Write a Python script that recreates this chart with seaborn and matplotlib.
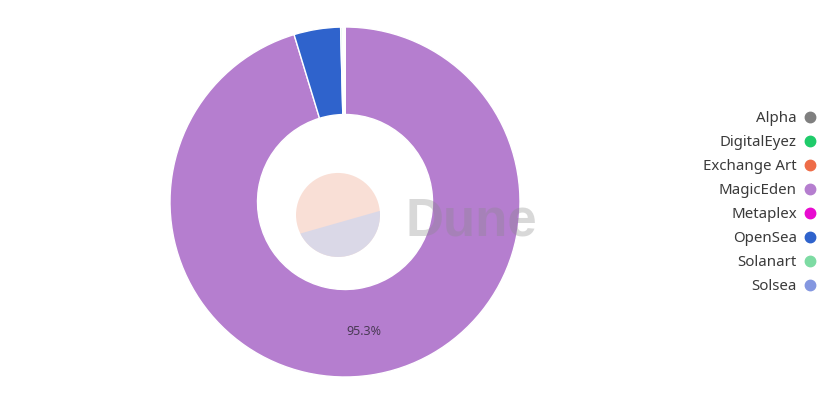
"""Marketplace share donut (Solana NFT volume by marketplace)."""
import matplotlib

matplotlib.use("Agg")

import matplotlib.pyplot as plt  # noqa: E402
import seaborn as sns  # noqa: E402
from matplotlib.lines import Line2D  # noqa: E402
from matplotlib.patches import Circle, Polygon  # noqa: E402

# Legend order (alphabetical, as in the reference)
MARKETS = ["Alpha", "DigitalEyez", "Exchange Art", "MagicEden",
           "Metaplex", "OpenSea", "Solanart", "Solsea"]
COLORS = ["#7f7f7f", "#1fcb6a", "#ee6c48", "#b57ecf",
          "#e80bd0", "#2f63cc", "#7ddba3", "#8497e0"]
# Share of volume in percent
SHARE = [0.02, 0.05, 0.03, 95.3, 0.12, 4.3, 0.15, 0.03]

sns.set_theme(style="white")
plt.rcParams["font.family"] = ["Noto Sans", "DejaVu Sans"]

palette = dict(zip(MARKETS, sns.color_palette(COLORS)))

# Slices are drawn largest first, clockwise from 12 o'clock
order = sorted(range(len(MARKETS)), key=lambda i: SHARE[i], reverse=True)
vals = [SHARE[i] for i in order]
cols = [palette[MARKETS[i]] for i in order]

fig = plt.figure(figsize=(8.39, 4.07), dpi=100)
ax = fig.add_axes([170 / 839, 30 / 407, 350 / 839, 350 / 407])


def _pct(p):
    return f"{p:.1f}%" if p > 50 else ""


wedges, _, autotexts = ax.pie(
    vals,
    colors=cols,
    startangle=90,
    counterclock=False,
    radius=1.0,
    autopct=_pct,
    pctdistance=0.75,
    wedgeprops=dict(width=0.5, edgecolor="white", linewidth=1.0),
    textprops=dict(fontsize=9, color="#4a3a55"),
)
ax.set_xlim(-1, 1)
ax.set_ylim(-1, 1)

# faint watermark (logo disc + "Dune") sitting over the hole
cx, cy, r = -0.04, -0.074, 0.24
disc = Circle((cx, cy), r, facecolor="#f9dcd2", edgecolor="none",
              alpha=0.9, zorder=4)
ax.add_patch(disc)
lower = Polygon([(-0.5, -0.25), (0.5, 0.035), (0.5, -0.6), (-0.5, -0.6)],
                closed=True, facecolor="#d9d8e8", edgecolor="none",
                alpha=0.95, zorder=4.1)
ax.add_patch(lower)
lower.set_clip_path(disc)
ax.text(0.343, -0.189, "Dune", fontsize=38, color="#8a8a8a", alpha=0.33,
        ha="left", va="baseline", family="Liberation Sans",
        fontweight="bold", zorder=5)

handles = [
    Line2D([0], [0], marker="o", linestyle="", markersize=7.5,
           markerfacecolor=palette[m], markeredgecolor=palette[m], label=m)
    for m in MARKETS
]
fig.legend(
    handles=handles,
    loc="center right",
    bbox_to_anchor=(829 / 839, 204 / 407),
    frameon=False,
    markerfirst=False,
    fontsize=10.8,
    labelspacing=0.6,
    handlelength=0.8,
    handletextpad=0.45,
    labelcolor="#3a3a3a",
)

fig.savefig("out.png", dpi=100, facecolor="white")
plt.close(fig)
